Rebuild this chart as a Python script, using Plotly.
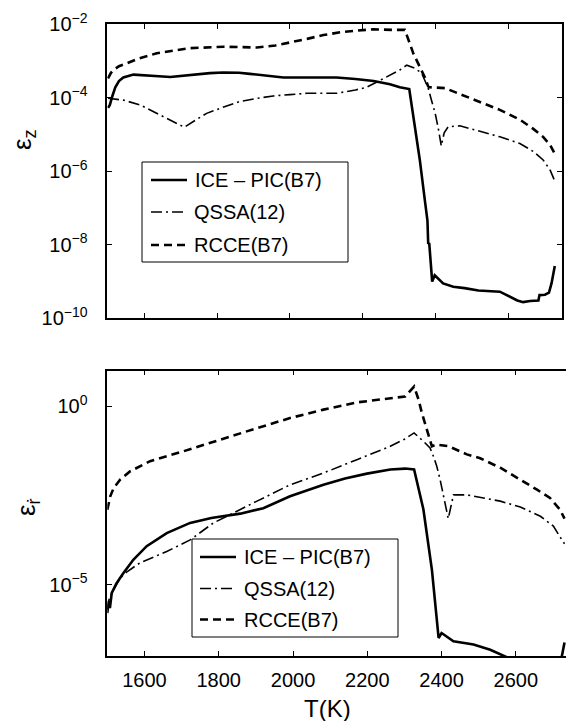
import plotly.graph_objects as go

# ---------------- data: top panel (eps_z) ----------------
T_ice_z = [1500, 1505, 1512, 1520, 1530, 1542, 1570, 1600, 1640, 1671, 1725, 1780, 1817, 1860,
           1890, 1940, 1982, 2050, 2128, 2180, 2230, 2275, 2302, 2328, 2357, 2372, 2378, 2380,
           2383, 2391, 2398, 2421, 2449, 2480, 2518, 2577, 2605, 2625, 2641, 2660, 2683, 2686,
           2701, 2712, 2719, 2728]
ice_z = [5.2e-5, 6.3e-5, 1.1e-4, 1.9e-4, 2.8e-4, 3.5e-4, 4.2e-4, 4.1e-4, 3.8e-4, 3.6e-4,
         4.1e-4, 4.6e-4, 4.8e-4, 4.7e-4, 4.4e-4, 3.8e-4, 3.5e-4, 3.5e-4, 3.5e-4, 3.2e-4,
         2.8e-4, 2.3e-4, 1.9e-4, 1.7e-4, 2.0e-6, 1.3e-7, 4.5e-8, 1.1e-8, 1.05e-8, 9.8e-10,
         1.45e-9, 8.7e-10, 7.1e-10, 6.5e-10, 5.6e-10, 5.2e-10, 3.8e-10, 3.0e-10, 2.7e-10,
         2.9e-10, 3.0e-10, 4.2e-10, 4.3e-10, 4.9e-10, 8.7e-10, 2.6e-9]

T_qssa_z = [1500, 1542, 1588, 1634, 1680, 1710, 1740, 1771, 1820, 1863, 1910, 1954, 2000, 2046,
            2128, 2180, 2211, 2250, 2275, 2302, 2321, 2344, 2362, 2380, 2390, 2399, 2408, 2416,
            2424, 2435, 2467, 2522, 2577, 2632, 2669, 2696, 2715, 2726]
qssa_z = [9.5e-5, 8.5e-5, 6.3e-5, 3.7e-5, 2.1e-5, 1.55e-5, 2.4e-5, 3.7e-5, 5.6e-5, 7.8e-5,
          9.5e-5, 1.1e-4, 1.2e-4, 1.3e-4, 1.3e-4, 1.6e-4, 1.9e-4, 3.0e-4, 4.1e-4, 5.6e-4,
          7.6e-4, 6.2e-4, 4.6e-4, 1.8e-4, 7.8e-5, 3.8e-5, 1.4e-5, 4.8e-6, 1.1e-5, 1.6e-5,
          1.7e-5, 1.2e-5, 8.5e-6, 5.6e-6, 3.4e-6, 2.0e-6, 1.07e-6, 5.9e-7]

T_rcce_z = [1500, 1508, 1515, 1530, 1552, 1579, 1634, 1680, 1725, 1817, 1909, 1960, 2000, 2050,
            2092, 2140, 2183, 2229, 2280, 2316, 2339, 2357, 2371, 2380, 2384, 2426, 2463, 2522,
            2577, 2632, 2669, 2696, 2715, 2726]
rcce_z = [3.3e-4, 4.7e-4, 5.6e-4, 7.1e-4, 8.5e-4, 1.1e-3, 1.6e-3, 1.9e-3, 2.2e-3, 2.4e-3,
          2.3e-3, 2.6e-3, 3.1e-3, 4.0e-3, 5.0e-3, 6.0e-3, 6.6e-3, 7.2e-3, 6.9e-3, 6.9e-3,
          1.6e-3, 6.9e-4, 3.5e-4, 2.0e-4, 1.9e-4, 1.8e-4, 1.3e-4, 7.8e-5, 4.6e-5, 2.5e-5,
          1.4e-5, 8.5e-6, 5.1e-6, 3.2e-6]

# ---------------- data: bottom panel (eps_r) ----------------
T_ice_r = [1500, 1504, 1507, 1512, 1525, 1543, 1570, 1606, 1660, 1723, 1780, 1813, 1858, 1920,
           1992, 2082, 2140, 2199, 2262, 2302, 2326, 2351, 2374, 2392, 2400, 2432, 2486, 2531,
           2567, 2600, 2640, 2680, 2712, 2724, 2731]
ice_r = [1.6e-6, 3.5e-6, 2.2e-6, 5.9e-6, 1.1e-5, 2.1e-5, 5.0e-5, 1.2e-4, 2.8e-4, 5.4e-4,
         7.4e-4, 8.3e-4, 9.8e-4, 1.4e-3, 3.0e-3, 6.3e-3, 9.5e-3, 1.3e-2, 1.7e-2, 1.8e-2,
         1.7e-2, 1.3e-3, 2.6e-5, 3.2e-7, 4.4e-7, 2.6e-7, 2.1e-7, 1.5e-7, 1.0e-7, 7.1e-8,
         5.0e-8, 5.0e-8, 6.3e-8, 1.0e-7, 2.4e-7]

T_qssa_r = [1500, 1505, 1517, 1535, 1553, 1588, 1660, 1723, 1786, 1831, 1903, 1992, 2082, 2172,
            2262, 2300, 2326, 2351, 2369, 2378, 2387, 2396, 2405, 2418, 2432, 2468, 2558, 2612,
            2666, 2701, 2724, 2731]
qssa_r = [2.0e-6, 4.0e-6, 7.2e-6, 1.55e-5, 2.3e-5, 4.1e-5, 8.5e-5, 1.8e-4, 5.4e-4, 9.1e-4,
          2.2e-3, 6.3e-3, 1.35e-2, 3.2e-2, 7.6e-2, 0.12, 0.18, 0.105, 6.8e-2, 4.0e-2, 2.1e-2,
          8.9e-3, 3.0e-3, 7.1e-4, 3.3e-3, 3.3e-3, 2.2e-3, 1.5e-3, 8.3e-4, 4.4e-4, 1.8e-4,
          1.4e-4]

T_rcce_r = [1500, 1508, 1517, 1535, 1561, 1615, 1705, 1795, 1903, 1992, 2082, 2172, 2244, 2302,
            2326, 2338, 2347, 2360, 2374, 2387, 2419, 2468, 2504, 2558, 2612, 2657, 2692, 2719,
            2731]
rcce_r = [1.26e-3, 3.0e-3, 5.1e-3, 8.9e-3, 1.5e-2, 2.9e-2, 5.5e-2, 0.11, 0.245, 0.47, 0.81,
          1.29, 1.62, 1.9, 3.6, 1.55, 0.65, 0.22, 7.6e-2, 8.5e-2, 7.6e-2, 4.5e-2, 3.5e-2,
          1.9e-2, 8.9e-3, 4.6e-3, 2.7e-3, 1.26e-3, 7.1e-4]

names = ["ICE – PIC(B7)", "QSSA(12)", "RCCE(B7)"]
x_ticks = [1600, 1800, 2000, 2200, 2400, 2600]
y_ticks_z = [1e-10, 1e-8, 1e-6, 1e-4, 1e-2]
y_text_z = ["10<sup>−10</sup>", "10<sup>−8</sup>", "10<sup>−6</sup>", "10<sup>−4</sup>", "10<sup>−2</sup>"]
y_ticks_r = [1e-5, 1]
y_text_r = ["10<sup>−5</sup>", "10<sup>0</sup>"]

FONT = "Liberation Sans, Arial, Helvetica, sans-serif"
W, H = 566, 721

styles = [dict(color="black", width=2.6, dash="solid"),
          dict(color="black", width=1.6, dash="11px,4px,2px,4px"),
          dict(color="black", width=2.6, dash="8px,5px")]

fig = go.Figure()
top_sets = [(T_ice_z, ice_z), (T_qssa_z, qssa_z), (T_rcce_z, rcce_z)]
bot_sets = [(T_ice_r, ice_r), (T_qssa_r, qssa_r), (T_rcce_r, rcce_r)]
for i, (xs, ys) in enumerate(top_sets):
    fig.add_trace(go.Scatter(x=xs, y=ys, mode="lines", name=names[i], line=styles[i],
                             xaxis="x", yaxis="y", showlegend=False))
for i, (xs, ys) in enumerate(bot_sets):
    fig.add_trace(go.Scatter(x=xs, y=ys, mode="lines", name=names[i], line=styles[i],
                             xaxis="x2", yaxis="y2", showlegend=False))

axis_common = dict(showline=True, linecolor="black", linewidth=1.5, ticks="inside",
                   ticklen=5, tickwidth=1, tickcolor="black", showgrid=False, zeroline=False,
                   automargin=False,
                   tickfont=dict(family=FONT, size=20, color="black"))


def px_x(v):
    return v / W


def px_y(v):
    return 1 - v / H


# legend boxes drawn as shapes + annotations (pixel layout of the reference)
legend_boxes = [dict(x0=142, x1=348, y0=162, y1=262, rows=[180, 212, 245], sx=151),
                dict(x0=192, x1=398, y0=539, y1=637, rows=[557, 588.5, 619.5], sx=200)]
shapes = []
annotations = []
for box in legend_boxes:
    shapes.append(dict(type="rect", xref="paper", yref="paper",
                       x0=px_x(box["x0"]), x1=px_x(box["x1"]),
                       y0=px_y(box["y1"]), y1=px_y(box["y0"]),
                       line=dict(color="black", width=1), fillcolor="white", layer="above"))
    for i, ry in enumerate(box["rows"]):
        shapes.append(dict(type="line", xref="paper", yref="paper",
                           x0=px_x(box["sx"]), x1=px_x(box["sx"] + 36),
                           y0=px_y(ry), y1=px_y(ry), line=styles[i], layer="above"))
        annotations.append(dict(text=names[i], xref="paper", yref="paper",
                                x=px_x(box["sx"] + 41.5), y=px_y(ry), xanchor="left",
                                yanchor="middle", showarrow=False,
                                font=dict(family=FONT, size=20, color="black")))

annotations += [
    dict(text="ε<sub>z</sub>", x=px_x(23), y=px_y(140), xref="paper", yref="paper",
         xanchor="center", yanchor="middle", textangle=-90, showarrow=False,
         font=dict(family=FONT, size=26, color="black")),
    dict(text="ε<sub>ṙ</sub>", x=px_x(27), y=px_y(507), xref="paper", yref="paper",
         xanchor="center", yanchor="middle", textangle=-90, showarrow=False,
         font=dict(family=FONT, size=26, color="black")),
    dict(text="T(K)", x=px_x(327), y=px_y(708), xref="paper", yref="paper",
         xanchor="center", yanchor="middle", showarrow=False,
         font=dict(family=FONT, size=24, color="black")),
]

fig.update_layout(
    template="none",
    width=W, height=H,
    margin=dict(l=0, r=0, t=0, b=0, pad=0),
    paper_bgcolor="white", plot_bgcolor="white",
    font=dict(family=FONT, color="black"),
    showlegend=False,
    xaxis=dict(domain=[107.3 / W, 561.7 / W], range=[1498, 2747], tickvals=x_ticks,
               showticklabels=False, mirror="ticks", anchor="y", **axis_common),
    yaxis=dict(domain=[px_y(318), px_y(24)], type="log", range=[-10, -2],
               tickvals=y_ticks_z, ticktext=y_text_z, mirror="ticks", anchor="x",
               ticklabelstandoff=14, **axis_common),
    xaxis2=dict(domain=[107.3 / W, 1.0], range=[1500, 2735], tickvals=x_ticks,
                mirror="ticks", anchor="y2", ticklabelstandoff=5, **axis_common),
    yaxis2=dict(domain=[px_y(656), px_y(370.7)], type="log", range=[-7, 1],
                tickvals=y_ticks_r, ticktext=y_text_r, mirror=False, anchor="x2",
                ticklabelstandoff=14, **axis_common),
    shapes=shapes,
    annotations=annotations,
)

fig.write_html("out.html", config={"displayModeBar": False},
               post_script="document.body.style.margin='0px';")
